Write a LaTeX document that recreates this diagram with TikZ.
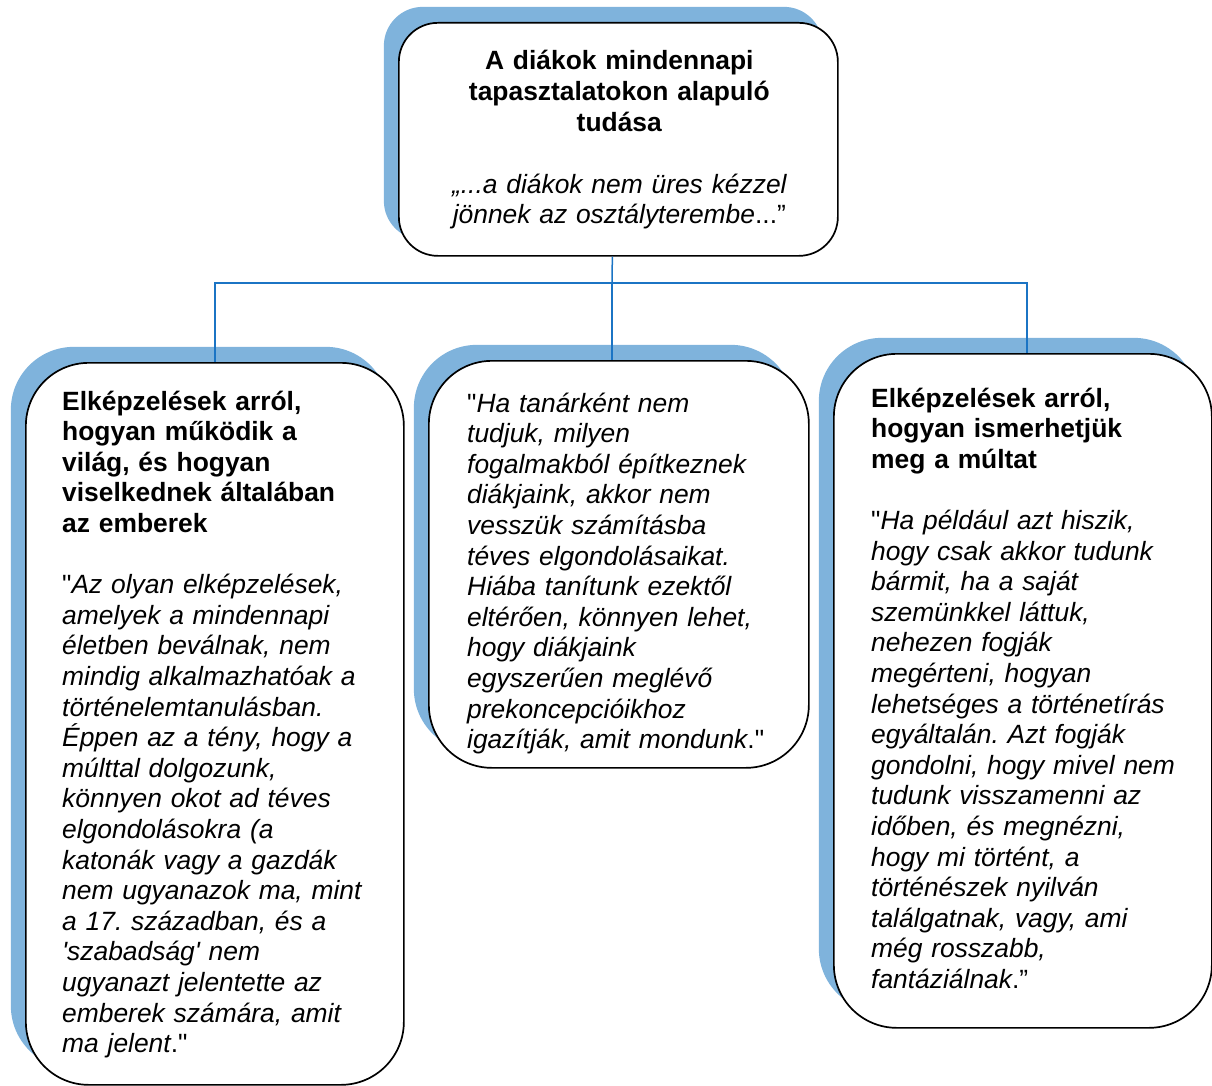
\documentclass[tikz,border=0pt]{standalone}
\usepackage{fontspec}
\setmainfont{Liberation Sans}[Ligatures=TeXOff]
\usepackage{xcolor}
\usepackage{tikz}
\usetikzlibrary{calc,shadows}
\definecolor{ink}{HTML}{000000}
\definecolor{shade}{HTML}{7FB3DC}
\definecolor{wire}{HTML}{1B74C4}
\tikzset{
  card/.style={draw=ink, fill=white, line width=1.7pt, inner sep=0pt, anchor=north west,
    copy shadow={shadow xshift=-15pt, shadow yshift=16pt, draw=none, fill=shade}},
  link/.style={draw=wire, line width=1.5pt},
  body/.style={inner sep=0pt, text width=360pt, align=left, anchor=base west,
    font=\fontsize{26.4}{30.6}\selectfont\frenchspacing},
  head/.style={inner sep=0pt, text width=420pt, align=center, anchor=base,
    font=\fontsize{26.4}{30.8}\selectfont\frenchspacing},
}

\begin{document}
\begin{tikzpicture}[x=1pt,y=-1pt]
  \useasboundingbox (0,0) rectangle (1212,1086);

  \node[card, rounded corners=39pt, minimum width=439pt, minimum height=233pt] (top) at (398,22) {};
  \node[card, rounded corners=63pt, minimum width=378pt, minimum height=722pt] (lbox) at (25,362) {};
  \node[card, rounded corners=63pt, minimum width=380pt, minimum height=407pt] (mbox) at (428,360) {};
  \node[card, rounded corners=63pt, minimum width=378pt, minimum height=674pt] (rbox) at (833,353) {};

  \coordinate (hub) at (612,283);
  \draw[link] ([xshift=-6pt]top.south) -- (hub);
  \draw[link] (lbox.north) |- (hub) -| ([xshift=4pt]rbox.north);
  \draw[link] (hub) -- (hub |- mbox.north);

  \node[head] (toptext) at ($(top.north)+(1,48)$)
    {\textbf{A diákok mindennapi}\\ \textbf{tapasztalatokon alapuló}\\ \textbf{tudása}\\[30.8pt]
     {\itshape „...a diákok nem üres kézzel}\\ {\itshape jönnek az osztályterembe}...”};

  \node[body] (ltext) at ($(lbox.north west)+(37,48)$)
    {\textbf{Elképzelések arról,}\\ \textbf{hogyan működik a}\\ \textbf{világ, és hogyan}\\
     \textbf{viselkednek általában}\\ \textbf{az emberek}\\[30.6pt]
     "{\itshape Az olyan elképzelések,}\\ {\itshape amelyek a mindennapi}\\
     {\itshape életben beválnak, nem}\\ {\itshape mindig alkalmazhatóak a}\\
     {\itshape történelemtanulásban.}\\ {\itshape Éppen az a tény, hogy a}\\
     {\itshape múlttal dolgozunk,}\\ {\itshape könnyen okot ad téves}\\
     {\itshape elgondolásokra (a}\\ {\itshape katonák vagy a gazdák}\\
     {\itshape nem ugyanazok ma, mint}\\ {\itshape a 17. században, és a}\\
     {\itshape 'szabadság' nem}\\ {\itshape ugyanazt jelentette az}\\
     {\itshape emberek számára, amit}\\ {\itshape ma jelent}."};

  \node[body] (mtext) at ($(mbox.north west)+(39,52)$)
    {"{\itshape Ha tanárként nem}\\ {\itshape tudjuk, milyen}\\
     {\itshape fogalmakból építkeznek}\\ {\itshape diákjaink, akkor nem}\\
     {\itshape vesszük számításba}\\ {\itshape téves elgondolásaikat.}\\
     {\itshape Hiába tanítunk ezektől}\\ {\itshape eltérően, könnyen lehet,}\\
     {\itshape hogy diákjaink}\\ {\itshape egyszerűen meglévő}\\
     {\itshape prekoncepcióikhoz}\\ {\itshape igazítják, amit mondunk}."};

  \node[body] (rtext) at ($(rbox.north west)+(38,54)$)
    {\textbf{Elképzelések arról,}\\ \textbf{hogyan ismerhetjük}\\ \textbf{meg a múltat}\\[30.6pt]
     "{\itshape Ha például azt hiszik,}\\ {\itshape hogy csak akkor tudunk}\\
     {\itshape bármit, ha a saját}\\ {\itshape szemünkkel láttuk,}\\
     {\itshape nehezen fogják}\\ {\itshape megérteni, hogyan}\\
     {\itshape lehetséges a történetírás}\\ {\itshape egyáltalán. Azt fogják}\\
     {\itshape gondolni, hogy mivel nem}\\ {\itshape tudunk visszamenni az}\\
     {\itshape időben, és megnézni,}\\ {\itshape hogy mi történt, a}\\
     {\itshape történészek nyilván}\\ {\itshape találgatnak, vagy, ami}\\
     {\itshape még rosszabb,}\\ {\itshape fantáziálnak}.”};
\end{tikzpicture}
\end{document}
